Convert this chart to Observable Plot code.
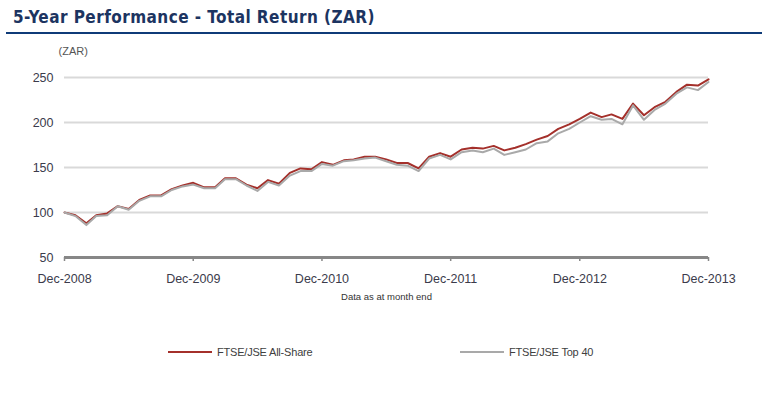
<!DOCTYPE html>
<html><head><meta charset="utf-8">
<script src="https://cdn.jsdelivr.net/npm/d3@7"></script>
<script src="https://cdn.jsdelivr.net/npm/@observablehq/plot@0.6"></script>
<style>
body{margin:0;background:#fff;width:762px;height:393px;overflow:hidden;position:relative;font-family:"Liberation Sans",Arial,sans-serif;}
#title{position:absolute;left:13px;top:7px;font-weight:bold;font-size:17px;font-family:"DejaVu Sans",Verdana,sans-serif;font-stretch:condensed;color:#1c3461;white-space:nowrap;line-height:20px}
#rule{position:absolute;left:6px;right:0;top:32px;height:2px;background:#0f3b78}
#chart{position:absolute;left:0;top:36px}
.leg{position:absolute;top:346px;display:flex;align-items:center;font-size:11px;color:#404040;letter-spacing:-0.2px;white-space:nowrap}
.leg svg{margin-right:5px}
</style></head>
<body>
<div id="title"></div>
<div id="rule"></div>
<div id="chart"></div>
<div id="legend"></div>
<script>
const titleText = "5-Year Performance - Total Return (ZAR)";
const unitLabel = "(ZAR)";
const footnote = "Data as at month end";
const seriesNames = ["FTSE/JSE All-Share", "FTSE/JSE Top 40"];
const seriesColors = ["#a4302b", "#a9a9a9"];
const tickLabels = ["Dec-2008","Dec-2009","Dec-2010","Dec-2011","Dec-2012","Dec-2013"];
const yTicks = [50, 100, 150, 200, 250];
// month-end values, Dec-2008 .. Dec-2013
const allShare = [100,97,88,97,99,107,104,114,119,119,126,130,133,128,128,138,138,131,127,136,132,144,149,148,156,153,158,159,162,162,159,155,155,149,162,166,162,170,172,171,174,169,172,176,181,185,193,198,204,211,206,209,204,221,208,217,223,234,242,241,248];
const top40 = [100,96,86,96,97,107,103,113,118,118,125,129,131,127,127,137,137,130,124,134,130,141,146,146,154,152,157,158,160,161,157,153,152,146,160,164,159,167,169,167,171,164,167,170,177,179,188,193,200,207,203,204,198,219,203,214,221,232,239,236,245];

const start = new Date(Date.UTC(2008, 11, 1));
const dates = allShare.map((_, i) => d3.utcMonth.offset(start, i));
const tickDates = tickLabels.map((_, i) => d3.utcYear.offset(start, i));
const labelByTime = new Map(tickDates.map((d, i) => [+d, tickLabels[i]]));
const rowsA = allShare.map((v, i) => ({date: dates[i], value: v}));
const rowsB = top40.map((v, i) => ({date: dates[i], value: v}));

document.getElementById("title").textContent = titleText;

const chart = Plot.plot({
  width: 762, height: 284,
  marginLeft: 64, marginRight: 54, marginTop: 41, marginBottom: 63,
  style: {fontSize: "12.5px", fontFamily: "'Liberation Sans', Arial, sans-serif", color: "#3b3b4b", background: "transparent"},
  x: {type: "utc", domain: [dates[0], dates[dates.length - 1]]},
  y: {domain: [50, 250]},
  marks: [
    Plot.gridY(yTicks.slice(1), {stroke: "#d9d9d9", strokeOpacity: 1, strokeWidth: 2}),
    Plot.ruleY([50], {stroke: "#878787", strokeWidth: 3}),
    Plot.axisX(tickDates, {tickFormat: d => labelByTime.get(+d), tickSize: 4, tickPadding: 13, stroke: "#878787", strokeWidth: 1.5, label: null}),
    Plot.axisY(yTicks, {tickSize: 0, tickPadding: 11, label: null}),
    Plot.lineY(rowsA, {x: "date", y: "value", stroke: seriesColors[0], strokeWidth: 2}),
    Plot.lineY(rowsB, {x: "date", y: "value", stroke: seriesColors[1], strokeWidth: 2}),
    Plot.text([unitLabel], {frameAnchor: "top-left", dx: -6, dy: -30, textAnchor: "start", fontSize: 11, fill: "#555"}),
    Plot.text([footnote], {frameAnchor: "bottom", dy: 42, fontSize: 9.5, fill: "#333"})
  ]
});
document.getElementById("chart").appendChild(chart);

const legendLeft = [168, 460];
const leg = document.getElementById("legend");
seriesNames.forEach((name, i) => {
  const div = document.createElement("div");
  div.className = "leg";
  div.style.left = legendLeft[i] + "px";
  div.innerHTML = `<svg width="44" height="4"><line x1="0" x2="44" y1="2" y2="2" stroke="${seriesColors[i]}" stroke-width="2"/></svg><span>${name}</span>`;
  leg.appendChild(div);
});

// fit title width to reference (~362px)
const t = document.getElementById("title");
const w = t.getBoundingClientRect().width;
t.style.letterSpacing = ((362 - w) / titleText.length) + "px";
</script>
</body></html>
